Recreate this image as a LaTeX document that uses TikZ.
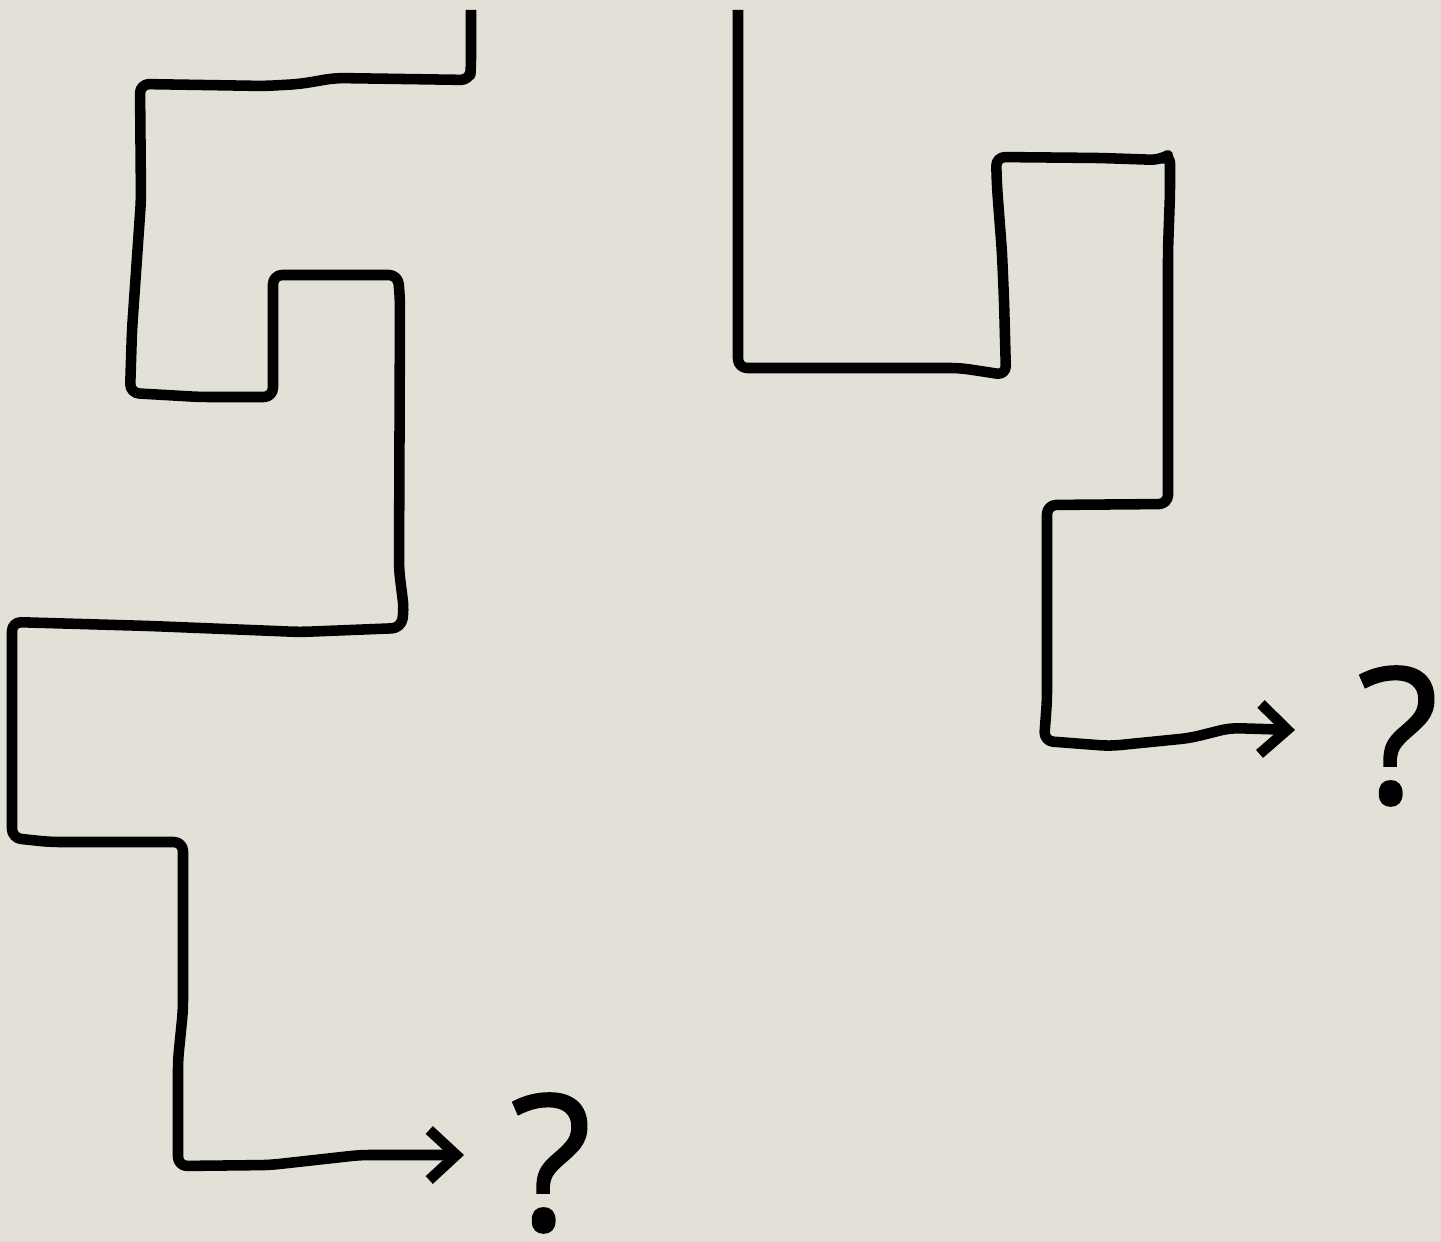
\documentclass[tikz,border=0pt]{standalone}
\usepackage{fontspec}
\setmainfont{Open Sans}
\newfontfamily\questfont{Open Sans}[FakeBold=0.8]
\usetikzlibrary{arrows.meta}
\definecolor{paper}{RGB}{226,224,215}
\tikzset{
  walk/.style={line width=3pt, rounded corners=2.6pt, line join=round},
  walkend/.style={-{Straight Barb[sharp,length=2.7mm,width=5mm,line width=3pt]}},
  quest/.style={font=\fontsize{54}{54}\questfont, inner sep=0pt}
}
\begin{document}
\begin{tikzpicture}
\fill[paper] (0,0) rectangle (14.41,-12.42);
\useasboundingbox (0,0) rectangle (14.41,-12.42);
\node[quest] (q1) at (5.51,-11.63) {?};
\node[quest] (q2) at (13.98,-7.36) {?};
\coordinate (s1) at (4.71,-0.10);
\coordinate (e1) at (4.64,-11.55);
\coordinate (s2) at (7.38,-0.10);
\coordinate (e2) at (12.95,-7.30);
\draw[walk,walkend] (s1) -- (4.71,-0.66) -- (4.70,-0.80) -- (3.35,-0.78) -- (3.00,-0.84) -- (2.65,-0.86) -- (1.40,-0.84)
  -- (1.41,-2.00) -- (1.32,-3.30) -- (1.30,-3.93) -- (2.00,-3.97) -- (2.73,-3.97) -- (2.73,-2.75) -- (3.98,-2.75)
  -- (4.00,-3.00) -- (3.99,-5.70) -- (4.04,-6.10) -- (4.01,-6.28) -- (3.00,-6.32) -- (1.50,-6.26) -- (0.12,-6.22)
  -- (0.12,-8.38) -- (0.50,-8.42) -- (1.83,-8.42) -- (1.83,-10.10) -- (1.78,-10.60) -- (1.78,-11.66)
  -- (2.70,-11.65) -- (3.60,-11.55) -- (e1);
\draw[walk,walkend] (s2) -- (7.38,-3.68) -- (7.80,-3.68) -- (9.60,-3.68) -- (10.06,-3.75) -- (10.04,-3.00)
  -- (10.02,-2.53) -- (9.97,-1.87) -- (9.96,-1.57) -- (11.00,-1.58) -- (11.60,-1.60) -- (11.70,-1.54)
  -- (11.70,-1.93) -- (11.68,-2.50) -- (11.68,-5.04) -- (10.47,-5.05) -- (10.47,-7.00) -- (10.44,-7.41)
  -- (11.10,-7.46) -- (11.90,-7.38) -- (12.30,-7.28) -- (e2);
\end{tikzpicture}
\end{document}
